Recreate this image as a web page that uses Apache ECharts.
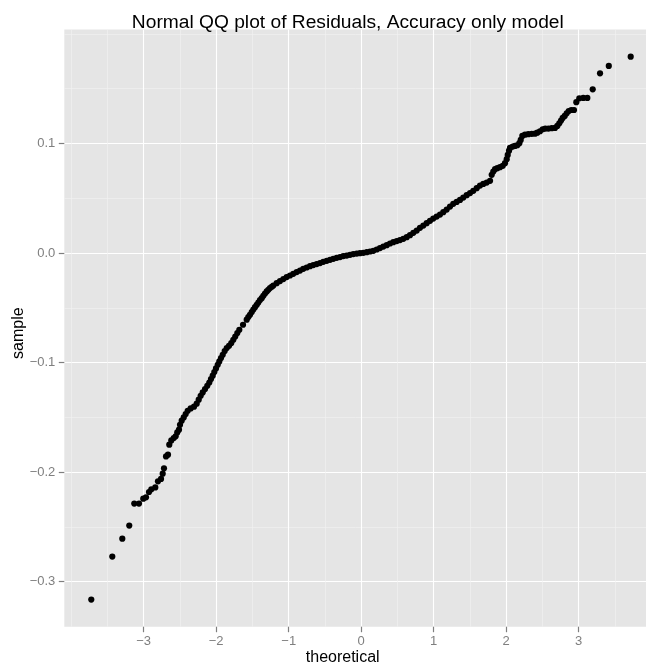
<!DOCTYPE html>
<html><head><meta charset="utf-8">
<script src="https://cdn.jsdelivr.net/npm/echarts@6.0.0/dist/echarts.min.js"></script>
<style>html,body{margin:0;padding:0;background:#fff}#chart{width:646px;height:667px}</style>
</head><body><div id="chart"></div>
<script>
const theoretical = [
-3.723,-3.433,-3.295,-3.199,-3.130,-3.065,-3.006,-2.968,-2.927,-2.895,-2.840,-2.803,-2.761,-2.738,-2.720,-2.692,-2.665,-2.647,-2.619,-2.586,-2.559,-2.537,-2.513,-2.499,-2.476,-2.448,-2.421,-2.393,-2.352,-2.306,-2.269,-2.241,-2.214,-2.186,-2.154,-2.123,-2.095,-2.072,-2.048,-2.026,-2.003,-1.979,-1.957,-1.934,-1.910,-1.883,-1.855,-1.823,-1.792,-1.764,-1.737,-1.709,-1.681,-1.630,
-1.579,-1.557,-1.534,-1.510,-1.488,-1.465,-1.441,-1.419,-1.396,-1.372,-1.350,-1.327,-1.303,-1.281,-1.258,-1.234,-1.212,-1.166,-1.120,-1.074,-1.028,-0.982,-0.937,-0.890,-0.844,-0.799,-0.752,-0.706,-0.661,-0.614,-0.568,-0.523,-0.476,-0.430,-0.385,-0.338,-0.292,-0.247,-0.200,-0.154,-0.109,-0.062,-0.017,
0.029,0.076,0.121,0.167,0.214,0.259,0.305,0.352,0.397,0.443,0.490,0.535,0.581,0.628,0.673,0.719,0.766,0.811,0.857,0.903,0.949,0.994,1.041,1.087,1.132,1.179,1.225,1.270,1.317,1.363,1.408,1.455,1.501,1.546,1.593,1.639,1.684,1.731,1.777,
1.800,1.822,1.846,1.877,1.914,1.952,1.983,2.007,2.021,2.039,2.052,2.090,2.121,2.153,2.181,2.200,2.222,2.259,2.305,2.352,2.397,2.429,2.466,2.503,2.539,2.581,2.628,2.673,2.705,2.732,2.756,2.779,2.807,2.834,2.862,2.898,2.935,2.967,3.008,3.063,3.119,3.193,3.294,3.415,3.717
];
const sample = [
-0.3164,-0.2772,-0.2608,-0.2489,-0.2288,-0.2288,-0.2243,-0.2231,-0.2182,-0.2158,-0.2140,-0.2085,-0.2063,-0.2015,-0.1966,-0.1857,-0.1841,-0.1750,-0.1711,-0.1689,-0.1674,-0.1638,-0.1613,-0.1568,-0.1531,-0.1501,-0.1470,-0.1440,-0.1419,-0.1403,-0.1376,-0.1339,-0.1303,-0.1273,-0.1242,-0.1212,-0.1182,-0.1151,-0.1120,-0.1087,-0.1054,-0.1020,-0.0990,-0.0959,-0.0929,-0.0895,-0.0868,-0.0847,-0.0822,-0.0792,-0.0762,-0.0731,-0.0701,-0.0655,
-0.0609,-0.0585,-0.0564,-0.0539,-0.0516,-0.0494,-0.0473,-0.0452,-0.0430,-0.0412,-0.0391,-0.0370,-0.0351,-0.0336,-0.0320,-0.0308,-0.0297,-0.0275,-0.0256,-0.0238,-0.0220,-0.0205,-0.0190,-0.0174,-0.0160,-0.0144,-0.0132,-0.0120,-0.0110,-0.0101,-0.0092,-0.0080,-0.0071,-0.0062,-0.0053,-0.0044,-0.0037,-0.0028,-0.0023,-0.0016,-0.0010,-0.0005,-0.0001,
0.0002,0.0008,0.0014,0.0020,0.0032,0.0045,0.0059,0.0072,0.0087,0.0099,0.0109,0.0118,0.0130,0.0145,0.0163,0.0184,0.0205,0.0230,0.0251,0.0273,0.0294,0.0315,0.0333,0.0351,0.0373,0.0397,0.0424,0.0449,0.0467,0.0485,0.0506,0.0528,0.0547,0.0568,0.0592,0.0616,0.0631,0.0643,0.0659,
0.0714,0.0744,0.0766,0.0775,0.0784,0.0796,0.0820,0.0857,0.0896,0.0935,0.0960,0.0972,0.0978,0.0984,0.1003,0.1033,0.1069,0.1081,0.1085,0.1088,0.1090,0.1099,0.1112,0.1130,0.1136,0.1136,0.1140,0.1142,0.1161,0.1185,0.1209,0.1234,0.1252,0.1276,0.1297,0.1306,0.1306,0.1377,0.1413,0.1416,0.1416,0.1495,0.1641,0.1708,0.1793
];
const xTicks = [-3,-2,-1,0,1,2,3];
const yTicks = [-0.3,-0.2,-0.1,0,0.1];
const xMinor = [-4,-3.5,-3,-2.5,-2,-1.5,-1,-0.5,0,0.5,1,1.5,2,2.5,3,3.5,4];
const yMinor = [-0.3,-0.25,-0.2,-0.15,-0.1,-0.05,0,0.05,0.1,0.15,0.2];
const xLimits = [-4.095, 4.095];
const yLimits = [-0.3412, 0.2041];
const titleText = 'Normal QQ plot of Residuals, Accuracy only model';
const xName = 'theoretical';
const yName = 'sample';

const points = theoretical.map((t, i) => [t, sample[i]]);
const FONT = "'Liberation Sans', Arial, Helvetica, sans-serif";
const fmt = (v, d) => (v < 0 ? '\u2212' : '') + Math.abs(v).toFixed(d);
const hiddenLine = {show: true, onZero: false, lineStyle: {color: 'rgba(0,0,0,0)', width: 0}};
const tickStyle = {color: '#7F7F7F', width: 1.2};

const chart = echarts.init(document.getElementById('chart'), null, {renderer: 'canvas'});
chart.setOption({
  animation: false,
  backgroundColor: '#ffffff',
  title: {
    text: titleText, left: 342.8, top: 8, textAlign: 'center',
    textStyle: {fontFamily: FONT, fontSize: 19.2, fontWeight: 'normal', color: '#000'}
  },
  grid: {
    left: 64.3, right: -12.1, top: 29.5, bottom: 40.3,
    show: true, backgroundColor: '#E5E5E5', borderWidth: 0,
    containLabel: false, outerBoundsMode: 'none'
  },
  xAxis: [
    {
      type: 'value', min: xLimits[0], max: xLimits[1], position: 'top',
      axisLine: {show: false, onZero: false},
      axisTick: {show: false, customValues: xMinor},
      axisLabel: {show: false, customValues: xMinor},
      splitLine: {show: true, lineStyle: {color: '#F2F2F2', width: 0.6}}
    },
    {
      type: 'value', min: xLimits[0], max: xLimits[1], position: 'bottom',
      axisLine: hiddenLine,
      axisTick: {show: true, inside: false, customValues: xTicks, length: 5.5, lineStyle: tickStyle},
      axisLabel: {customValues: xTicks, margin: 8, color: '#7F7F7F', fontFamily: FONT, fontSize: 13,
        formatter: v => fmt(v, 0)},
      splitLine: {show: true, lineStyle: {color: '#FFFFFF', width: 1.1}},
      name: xName, nameLocation: 'middle', nameGap: 23, nameMoveOverlap: false,
      nameTextStyle: {fontFamily: FONT, fontSize: 16, color: '#000', padding: [0, 37, 0, 0]}
    }
  ],
  yAxis: [
    {
      type: 'value', min: yLimits[0], max: yLimits[1], position: 'right',
      axisLine: {show: false, onZero: false},
      axisTick: {show: false, customValues: yMinor},
      axisLabel: {show: false, customValues: yMinor},
      splitLine: {show: true, lineStyle: {color: '#F2F2F2', width: 0.6}}
    },
    {
      type: 'value', min: yLimits[0], max: yLimits[1], position: 'left',
      axisLine: hiddenLine,
      axisTick: {show: true, inside: false, customValues: yTicks, length: 5.5, lineStyle: tickStyle},
      axisLabel: {customValues: yTicks, margin: 9, color: '#7F7F7F', fontFamily: FONT, fontSize: 13,
        formatter: v => fmt(v, 1)},
      splitLine: {show: true, lineStyle: {color: '#FFFFFF', width: 1.1}},
      name: yName, nameLocation: 'middle', nameGap: 38, nameMoveOverlap: false,
      nameTextStyle: {fontFamily: FONT, fontSize: 16, color: '#000', padding: [0, 10, 0, 0]}
    }
  ],
  series: [{
    type: 'scatter', xAxisIndex: 1, yAxisIndex: 1,
    data: points, symbol: 'circle', symbolSize: 6.2,
    itemStyle: {color: '#000000', opacity: 1},
    silent: true, clip: true
  }]
});
</script>
</body></html>
